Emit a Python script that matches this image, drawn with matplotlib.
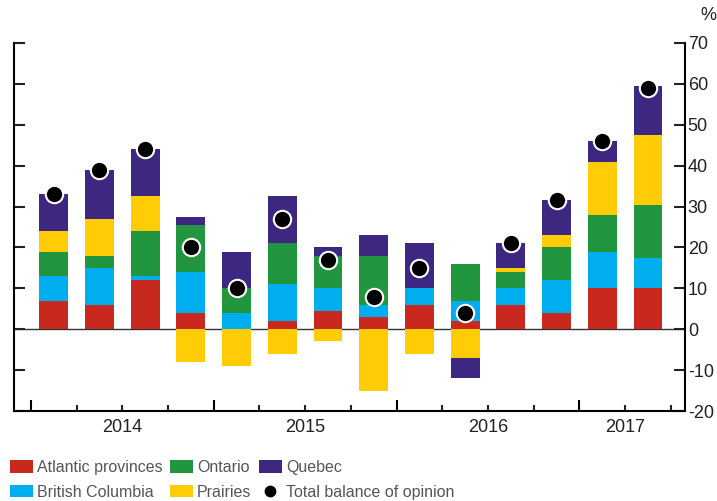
import matplotlib.pyplot as plt
import numpy as np

plt.rcParams['font.family'] = ['Liberation Sans', 'DejaVu Sans']
plt.rcParams['axes.unicode_minus'] = False

quarters = ['2014Q1', '2014Q2', '2014Q3', '2014Q4', '2015Q1', '2015Q2', '2015Q3',
            '2015Q4', '2016Q1', '2016Q2', '2016Q3', '2016Q4', '2017Q1', '2017Q2']
years = ['2014', '2015', '2016', '2017']

atlantic = [7, 6, 12, 4, 0, 2, 4.5, 3, 6, 2, 6, 4, 10, 10]
bc = [6, 9, 1, 10, 4, 9, 5.5, 3, 4, 5, 4, 8, 9, 7.5]
ontario = [6, 3, 11, 11.5, 6, 10, 8, 12, 0, 9, 4, 8, 9, 13]
prairies = [5, 9, 8.5, -8, -9, -6, -3, -15, -6, -7, 1, 3, 13, 17]
quebec = [9, 12, 11.5, 2, 9, 11.5, 2, 5, 11, -5, 6, 8.5, 5, 12]
total = [33, 39, 44, 20, 10, 27, 17, 8, 15, 4, 21, 31.5, 46, 59]

series = [
    ("Atlantic provinces", atlantic, "#C8281E"),
    ("British Columbia", bc, "#00ADEF"),
    ("Ontario", ontario, "#21963F"),
    ("Prairies", prairies, "#FFCC05"),
    ("Quebec", quebec, "#3E2780"),
]

fig = plt.figure(figsize=(7.17, 5.01), dpi=100)
ax = fig.add_axes([14/717, 1-411/501, (685-14)/717, (411-43)/501])

x = np.arange(len(quarters))
pos_bottom = np.zeros(len(x))
neg_bottom = np.zeros(len(x))
for name, vals, col in series:
    v = np.array(vals, dtype=float)
    b = np.where(v >= 0, pos_bottom, neg_bottom)
    ax.bar(x, v, bottom=b, width=0.63, color=col, label=name, zorder=2)
    pos_bottom += np.where(v >= 0, v, 0)
    neg_bottom += np.where(v < 0, v, 0)

ax.plot(x, total, 'o', color='black', markersize=12.5, markeredgecolor='white',
        markeredgewidth=1.5, zorder=3, label="Total balance of opinion")

ax.axhline(0, color='#333333', lw=1, zorder=1)

ax.set_ylim(-20, 70)
ax.set_xlim(-0.87, 13.81)
ax.set_yticks(range(-20, 71, 10))
ax.tick_params(axis='y', left=True, right=True, labelleft=False, labelright=True,
               direction='in', length=8, width=1.5, labelsize=13, pad=2, colors='#222222')

# year labels centred under each year's bars, quarter boundary ticks
ax.set_xticks([1.5, 5.5, 9.5, 12.5], years)
ax.set_xticks([0.5, 2.5, 4.5, 6.5, 8.5, 10.5, 13.5], minor=True)
ax.tick_params(axis='x', which='both', direction='in', length=4.5, width=1.5,
               labelsize=13, pad=6, colors='#222222')
secax = ax.secondary_xaxis('bottom')
secax.set_xticks([-0.5, 3.5, 7.5, 11.5], ['', '', '', ''])
secax.tick_params(direction='in', length=8, width=1.5)
secax.spines['bottom'].set_visible(False)

ax.spines['top'].set_visible(False)
for s in ['left', 'right', 'bottom']:
    ax.spines[s].set_linewidth(1.5)

fig.text(708/717, 1-15/501, '%', fontsize=13, ha='center', va='center', color='#222222')

h, l = ax.get_legend_handles_labels()
order = [1, 2, 3, 4, 5, 0]
h = [h[i] for i in order]
l = [l[i] for i in order]
fig.legend(h, l, ncol=3, loc='upper left', bbox_to_anchor=(10/717, 1-460/501),
           frameon=False, fontsize=11.5,
           handlelength=1.45, handleheight=0.82,
           handletextpad=0.25, columnspacing=0.45, labelspacing=0.6,
           borderpad=0, borderaxespad=0, labelcolor='#555555', markerscale=0.8)

fig.savefig('out.png', dpi=100)
